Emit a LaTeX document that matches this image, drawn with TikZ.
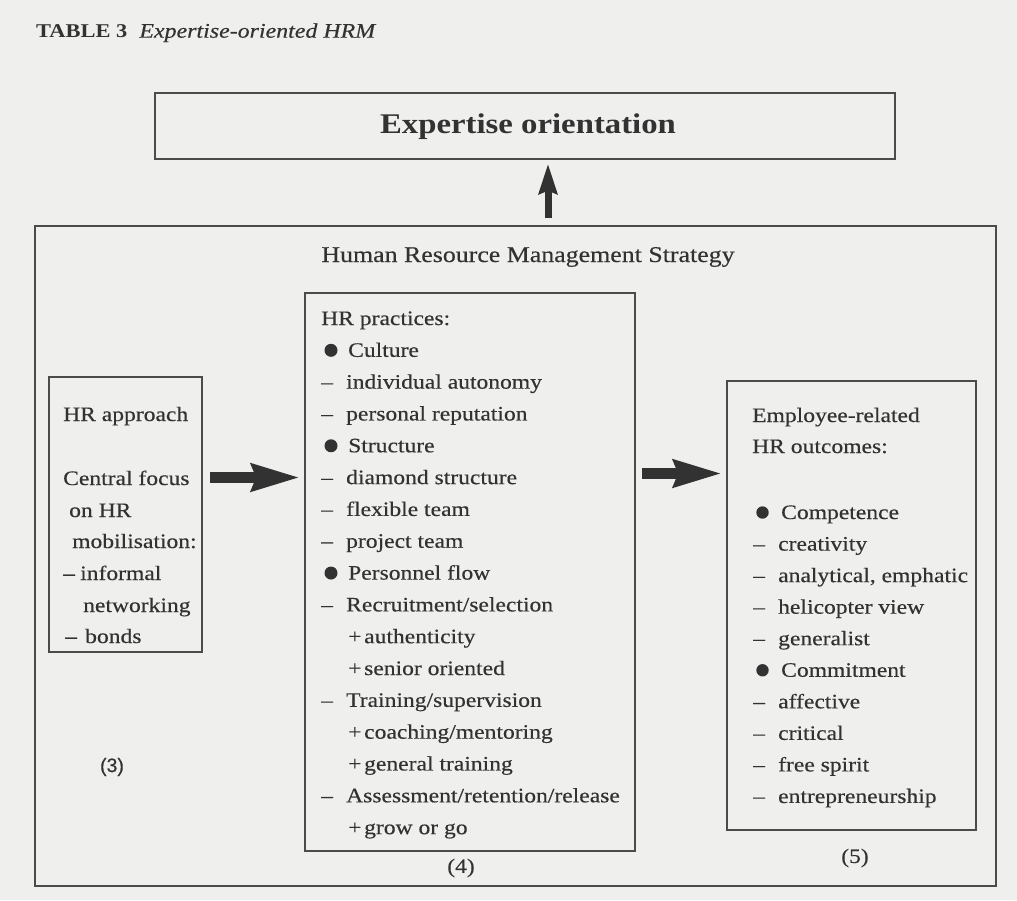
\documentclass[tikz,border=0pt]{standalone}
\usepackage{fontspec}
\setmainfont{Liberation Serif}[FakeStretch=1.15, UprightFeatures={FakeBold=0.35}, ItalicFeatures={FakeBold=0.35}]
\newfontfamily\labsans{Liberation Sans}[FakeBold=0.3]
\usetikzlibrary{arrows.meta}
\definecolor{paper}{RGB}{239,239,237}
\definecolor{ink}{RGB}{50,50,50}
\definecolor{rulec}{RGB}{75,75,75}
\definecolor{arrowc}{RGB}{50,50,50}
\newcommand\mydash{\makebox[25pt][l]{–}}
\newcommand\myplus{\hspace*{27pt}\makebox[16pt][l]{+}}
\newcommand\mybul{\hspace*{27pt}}
\tikzset{
  frame/.style={draw=rulec, line width=1.2pt, inner sep=0pt},
  txt/.style={anchor=base west, inner sep=0pt, text=ink, font=\fontsize{20.5}{25}\selectfont},
  dot/.style={fill=ink},
  fatarrow/.style={draw=arrowc, line width=11pt, -{Stealth[length=48pt,width=26pt,inset=4pt]}},
  uparrow/.style={draw=arrowc, line width=7pt, -{Stealth[length=30pt,width=18pt,inset=3pt]}}
}
\begin{document}
\begin{tikzpicture}[x=1pt,y=-1pt]
\useasboundingbox (0,0) rectangle (1017,900);
\fill[paper] (0,0) rectangle (1017,900);

% title
\node[anchor=base west, inner sep=0pt, text=ink, font=\fontsize{20.8}{24}\selectfont] (title) at (36,37.7)
  {{\fontsize{19.5}{24}\selectfont\bfseries TABLE 3}\hspace{12pt}\textit{Expertise-oriented HRM}};

% boxes
\node[frame, minimum width=740pt, minimum height=66pt] (top) at (525,126) {};
\node[anchor=base, inner sep=0pt, text=ink, font=\fontsize{28.5}{32}\selectfont\bfseries] (toptxt) at (528,133) {Expertise orientation};
\node[frame, minimum width=961pt, minimum height=660pt] (outer) at (515.5,556) {};
\node[anchor=base, inner sep=0pt, text=ink, font=\fontsize{22.5}{26}\selectfont] (hrms) at (528,262) {Human Resource Management Strategy};
\node[frame, minimum width=153pt, minimum height=275pt] (lbox) at (125.5,514.5) {};
\node[frame, minimum width=330pt, minimum height=558pt] (mbox) at (470,572) {};
\node[frame, minimum width=249pt, minimum height=449pt] (rbox) at (851.5,605.5) {};

% arrows
\coordinate (ax) at (548,0);
\coordinate (ay1) at (0,477.5);
\coordinate (ay2) at (0,473.5);
\draw[uparrow, shorten <=7pt, shorten >=4pt] (outer.north -| ax) -- (top.south -| ax);
\draw[fatarrow, shorten <=7pt, shorten >=4pt] (lbox.east |- ay1) -- (mbox.west |- ay1);
\draw[fatarrow, shorten <=6pt, shorten >=4pt] (mbox.east |- ay2) -- (rbox.west |- ay2);

% left box text
\node[txt] (l1) at (63,421) {HR approach};
\node[txt] (l2) at (63,485) {Central focus};
\node[txt] (l3) at (69,517) {on HR};
\node[txt] (l4) at (72,548) {mobilisation:};
\node[txt] (l5) at (63,580) {\makebox[17pt][l]{–}informal};
\node[txt] (l6) at (83,612) {networking};
\node[txt] (l7) at (65,643) {\makebox[20pt][l]{–}bonds};
\node[anchor=center, inner sep=0pt, text=ink, font=\labsans\fontsize{19.5}{22}\selectfont] (n3) at (112,767) {(3)};

% middle box text
\foreach \k/\t in {1/{HR practices:}, 2/{\mybul Culture}, 3/{\mydash individual autonomy},
  4/{\mydash personal reputation}, 5/{\mybul Structure}, 6/{\mydash diamond structure},
  7/{\mydash flexible team}, 8/{\mydash project team}, 9/{\mybul Personnel flow},
  10/{\mydash Recruitment/selection}, 11/{\myplus authenticity}, 12/{\myplus senior oriented},
  13/{\mydash Training/supervision}, 14/{\myplus coaching/mentoring}, 15/{\myplus general training},
  16/{\mydash Assessment/retention/release}, 17/{\myplus grow or go}}
  \node[txt] (m\k) at (321,{325+31.82*(\k-1)}) {\t};
\foreach \k in {2,5,9}
  \fill[dot] (331,{325+31.82*(\k-1)-6.5}) circle (6.5pt);
\node[anchor=center, inner sep=0pt, text=ink, font=\fontsize{20.5}{24}\selectfont] (n4) at (461,868) {(4)};

% right box text
\node[txt] (r1) at (752,422) {Employee-related};
\node[txt] (r2) at (752,453) {HR outcomes:};
\foreach \k/\t in {0/{\hspace*{28pt}Competence}, 1/{\mydash creativity}, 2/{\mydash analytical, emphatic},
  3/{\mydash helicopter view}, 4/{\mydash generalist}, 5/{\hspace*{28pt}Commitment},
  6/{\mydash affective}, 7/{\mydash critical}, 8/{\mydash free spirit}, 9/{\mydash entrepreneurship}}
  \node[txt] (rr\k) at (753,{519+31.55*\k}) {\t};
\foreach \k in {0,5}
  \fill[dot] (762.5,{519+31.55*\k-6.5}) circle (6.2pt);
\node[anchor=center, inner sep=0pt, text=ink, font=\fontsize{20.5}{24}\selectfont] (n5) at (855,858) {(5)};
\end{tikzpicture}
\end{document}
